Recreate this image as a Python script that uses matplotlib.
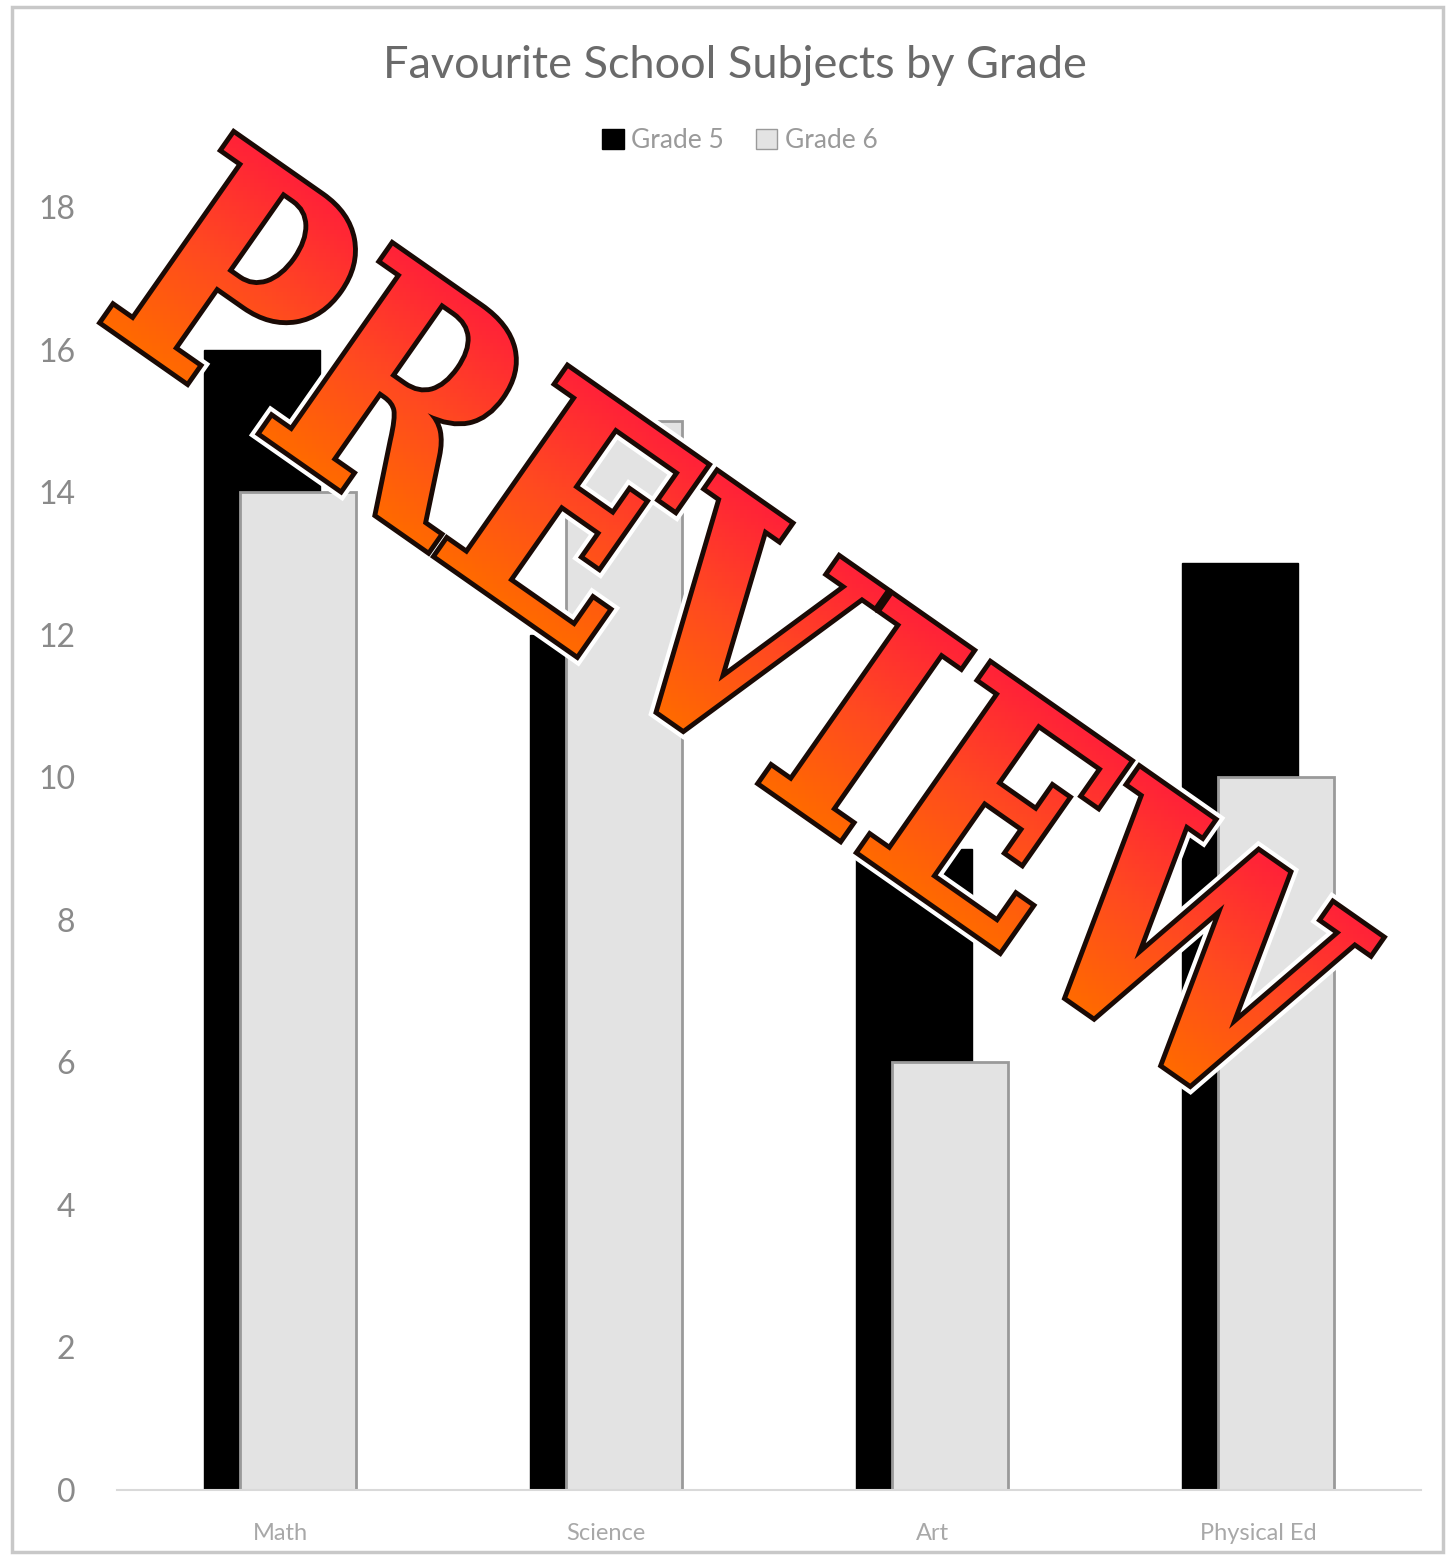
import numpy as np
import matplotlib
matplotlib.use("Agg")
import matplotlib.pyplot as plt
from matplotlib.patches import Rectangle, PathPatch, Patch
from matplotlib.textpath import TextPath
from matplotlib.font_manager import FontProperties
from matplotlib.transforms import Affine2D

plt.rcParams['font.family'] = ['Lato', 'DejaVu Sans']

subjects = ["Math", "Science", "Art", "Physical Ed"]
grade5 = [16, 12, 9, 13]
grade6 = [14, 15, 6, 10]
yticks = [0, 2, 4, 6, 8, 10, 12, 14, 16, 18]

W, H = 1451, 1557
fig = plt.figure(figsize=(W / 100, H / 100), dpi=100)
fig.patch.set_facecolor("white")

# outer chart frame
fig.patches.append(Rectangle((12 / W, 5 / H), (W - 20) / W, (H - 12) / H,
                             transform=fig.transFigure, fill=False,
                             edgecolor="#c8c8c8", linewidth=2.5))

ax = fig.add_axes([117 / W, 67 / H, 1304 / W, 1283 / H])
x = np.arange(len(subjects))
bw = 0.356
off = 0.056
ax.bar(x - off, grade5, width=bw, color="black", edgecolor="black",
       linewidth=1, zorder=2, label="Grade 5")
ax.bar(x + off, grade6, width=bw, color="#e3e3e3", edgecolor="#9a9a9a",
       linewidth=2, zorder=3, label="Grade 6")

ax.set_xlim(-0.5, 3.5)
ax.set_ylim(0, 18)
ax.set_yticks(yticks)
ax.set_yticklabels([str(v) for v in yticks], fontsize=23, color="#8a8a8a")
ax.set_xticks(x)
ax.set_xticklabels(subjects, fontsize=17, color="#a8a8a8")
ax.tick_params(axis="both", length=0)
ax.tick_params(axis="y", pad=30)
ax.tick_params(axis="x", pad=24)
for s in ["top", "right", "left"]:
    ax.spines[s].set_visible(False)
ax.spines["bottom"].set_color("#d9d9d9")
ax.spines["bottom"].set_linewidth(1.5)
ax.spines["bottom"].set_zorder(4)

fig.text(735 / W, 1 - 66 / H, "Favourite School Subjects by Grade",
         ha="center", va="center", fontsize=32.5, color="#6a6a6a")

handles = [Patch(facecolor="black", edgecolor="black", label="Grade 5"),
           Patch(facecolor="#e3e3e3", edgecolor="#9a9a9a", label="Grade 6")]
fig.legend(handles=handles, loc="center", bbox_to_anchor=(740 / W, 1 - 141 / H),
           ncol=2, frameon=False, fontsize=19, labelcolor="#9a9a9a",
           handlelength=0.8, handleheight=0.8, handletextpad=0.3,
           columnspacing=1.2)

# diagonal "PREVIEW" stamp with a red-to-orange gradient fill
ov = fig.add_axes([0, 0, 1, 1], facecolor="none")
ov.set_xlim(0, W)
ov.set_ylim(0, H)
ov.axis("off")
fp = FontProperties(family="DejaVu Serif", weight="bold")
tp = TextPath((0, 0), "PREVIEW", size=100, prop=fp)
bb = tp.get_extents()
angle = -35.0
cx, cy = 742, H - 630
sx = 1400 / bb.width
sy = sx * 1.22
tr = (Affine2D()
      .translate(-(bb.x0 + bb.width / 2), -(bb.y0 + bb.height / 2))
      .scale(sx, sy)
      .rotate_deg(angle)
      .translate(cx, cy))
path = tr.transform_path(tp)
halo = PathPatch(path, facecolor="none", edgecolor="white",
                 linewidth=13, zorder=5)
ov.add_patch(halo)
outline = PathPatch(path, facecolor="none", edgecolor="#1a0a05",
                    linewidth=7, zorder=5.5)
ov.add_patch(outline)
clip = PathPatch(path, facecolor="none", edgecolor="none", zorder=6)
ov.add_patch(clip)

# gradient measured across the letters, perpendicular to the baseline
gxs = np.linspace(0, W, 400)
gys = np.linspace(H, 0, 400)
GX, GY = np.meshgrid(gxs, gys)
th = np.deg2rad(angle)
v = -np.sin(th) * (GX - cx) + np.cos(th) * (GY - cy)
half = bb.height * sy / 2
grad = np.clip((v + half) / (2 * half), 0, 1)
cmap = matplotlib.colors.LinearSegmentedColormap.from_list(
    "stamp", ["#ff6a00", "#ff4a20", "#ff2238"])
img = ov.imshow(grad, extent=[0, W, 0, H], origin="upper", cmap=cmap,
                vmin=0, vmax=1, aspect="auto", zorder=6)
img.set_clip_path(clip)

fig.savefig("out.png", dpi=100, facecolor="white")
